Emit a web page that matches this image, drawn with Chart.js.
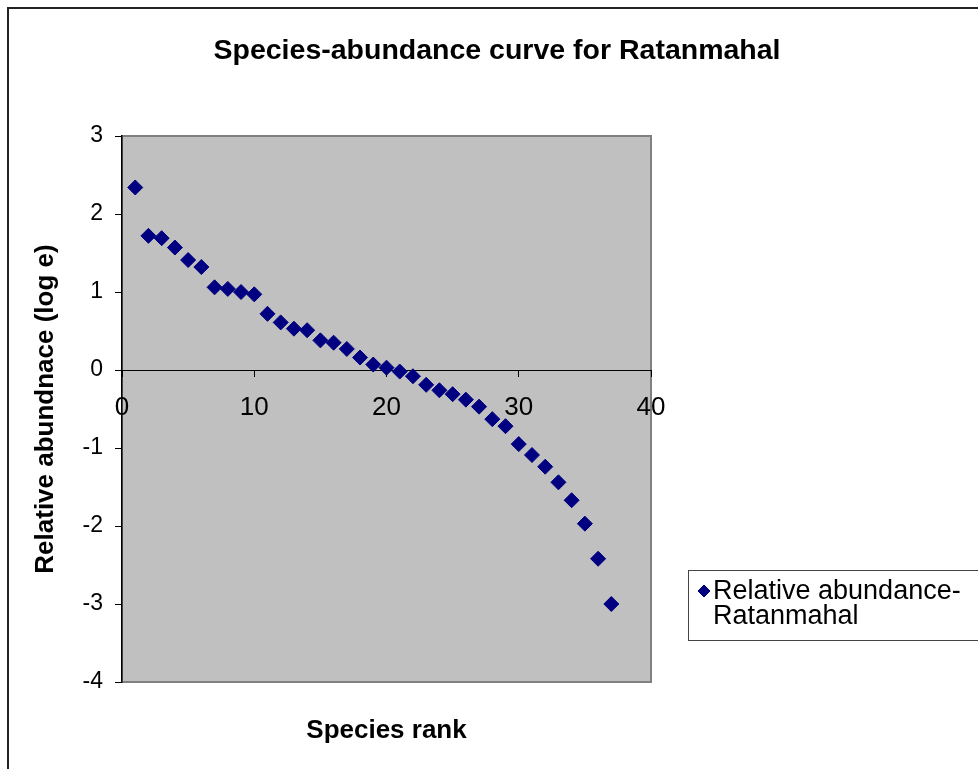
<!DOCTYPE html>
<html>
<head>
<meta charset="utf-8">
<title>Species-abundance curve for Ratanmahal</title>
<script src="https://cdn.jsdelivr.net/npm/chart.js@4/dist/chart.umd.min.js"></script>
<style>
  body { margin: 0; background: #fff; }
  canvas { display: block; }
</style>
</head>
<body>
<canvas id="abundanceChart" width="978" height="769"></canvas>
<script>
// values
const speciesRank = [1, 2, 3, 4, 5, 6, 7, 8, 9, 10, 11, 12, 13, 14, 15, 16, 17, 18, 19,
    20, 21, 22, 23, 24, 25, 26, 27, 28, 29, 30, 31, 32, 33, 34, 35, 36, 37];
const relAbundance = [2.34, 1.72, 1.69, 1.57, 1.41, 1.32, 1.06, 1.04, 1.00, 0.97,
    0.72, 0.61, 0.53, 0.51, 0.38, 0.35, 0.27, 0.16, 0.07, 0.03,
    -0.02, -0.08, -0.19, -0.26, -0.31, -0.38, -0.47, -0.63, -0.72, -0.95,
    -1.09, -1.24, -1.44, -1.67, -1.97, -2.42, -3.00];
const xTicks = { min: 0, max: 40, step: 10 };
const yTicks = { min: -4, max: 3, step: 1 };
const seriesLabel = ['Relative abundance-', 'Ratanmahal'];

const FONT = "'Liberation Sans', Arial, sans-serif";
const navy = '#000080';

const frameAndPlotArea = {
    id: 'frameAndPlotArea',
    beforeDraw(chart) {
        const ctx = chart.ctx;
        const a = chart.chartArea;
        ctx.save();
        // outer chart frame
        ctx.strokeStyle = '#222';
        ctx.lineWidth = 2;
        ctx.beginPath();
        ctx.moveTo(8, 769);
        ctx.lineTo(8, 8);
        ctx.lineTo(980, 8);
        ctx.stroke();
        // grey plot area
        ctx.fillStyle = '#C0C0C0';
        ctx.fillRect(a.left, a.top, a.right - a.left, a.bottom - a.top);
        ctx.strokeStyle = '#808080';
        ctx.lineWidth = 2;
        ctx.strokeRect(a.left, a.top, a.right - a.left, a.bottom - a.top);
        ctx.restore();
    },
    afterDraw(chart) {
        // legend box, drawn by hand because the label wraps on two lines
        const ctx = chart.ctx;
        const ds = chart.data.datasets[0];
        ctx.save();
        ctx.fillStyle = '#fff';
        ctx.fillRect(688, 570, 300, 70);
        ctx.strokeStyle = '#444';
        ctx.lineWidth = 1;
        ctx.strokeRect(688.5, 570.5, 300, 70);
        ctx.fillStyle = ds.backgroundColor;
        ctx.strokeStyle = ds.borderColor;
        Chart.helpers.drawPoint(ctx, { pointStyle: 'rectRot', radius: 6, borderWidth: 1 }, 704, 591);
        ctx.fillStyle = '#000';
        ctx.font = '27px ' + FONT;
        ctx.textBaseline = 'alphabetic';
        ctx.fillText(ds.label[0], 713, 599);
        ctx.fillText(ds.label[1], 713, 624);
        ctx.restore();
    }
};

new Chart(document.getElementById('abundanceChart'), {
    type: 'scatter',
    data: {
        datasets: [{
            label: seriesLabel,
            data: speciesRank.map((r, i) => ({ x: r, y: relAbundance[i] })),
            backgroundColor: navy,
            borderColor: navy,
            pointStyle: 'rectRot',
            pointRadius: 7.5,
            pointHoverRadius: 7.5,
            borderWidth: 1
        }]
    },
    options: {
        responsive: false,
        animation: false,
        events: [],
        layout: { padding: { left: 16, right: 0, top: 0, bottom: 0 } },
        plugins: {
            legend: { display: false },
            tooltip: { enabled: false },
            title: {
                display: true,
                text: 'Species-abundance curve for Ratanmahal',
                color: '#000',
                font: { family: FONT, size: 28.5, weight: 'bold', lineHeight: 1.2 },
                padding: { top: 34, bottom: 67.8 }
            }
        },
        scales: {
            x: {
                type: 'linear',
                position: { y: 0 },
                min: xTicks.min,
                max: xTicks.max,
                ticks: { stepSize: xTicks.step, color: '#000', padding: 16, maxRotation: 0,
                    font: { family: FONT, size: 26 } },
                grid: { drawOnChartArea: false, drawTicks: true, tickLength: 6, color: '#000' },
                border: { color: '#000', width: 1 }
            },
            x2: {
                type: 'linear',
                position: 'bottom',
                ticks: { display: false },
                grid: { display: false },
                border: { display: false },
                title: {
                    display: true,
                    text: 'Species rank',
                    color: '#000',
                    font: { family: FONT, size: 26, weight: 'bold', lineHeight: 1.2 },
                    padding: { top: 0, bottom: 23 }
                },
                afterFit(scale) { scale.height = 87; }
            },
            y: {
                type: 'linear',
                position: 'left',
                min: yTicks.min,
                max: yTicks.max,
                ticks: { stepSize: yTicks.step, color: '#000', padding: 12,
                    font: { family: FONT, size: 23 } },
                grid: { drawOnChartArea: false, drawTicks: true, tickLength: 7, color: '#000' },
                border: { color: '#000', width: 1.5 },
                title: {
                    display: true,
                    text: 'Relative abundnace (log e)',
                    color: '#000',
                    font: { family: FONT, size: 26, weight: 'bold', lineHeight: 1.2 },
                    padding: { top: 14, bottom: 0 }
                },
                afterFit(scale) { scale.width = 106; }
            },
            yRight: {
                type: 'linear',
                position: 'right',
                ticks: { display: false },
                grid: { display: false },
                border: { display: false },
                afterFit(scale) { scale.width = 327; }
            }
        }
    },
    plugins: [frameAndPlotArea]
});
</script>
</body>
</html>
